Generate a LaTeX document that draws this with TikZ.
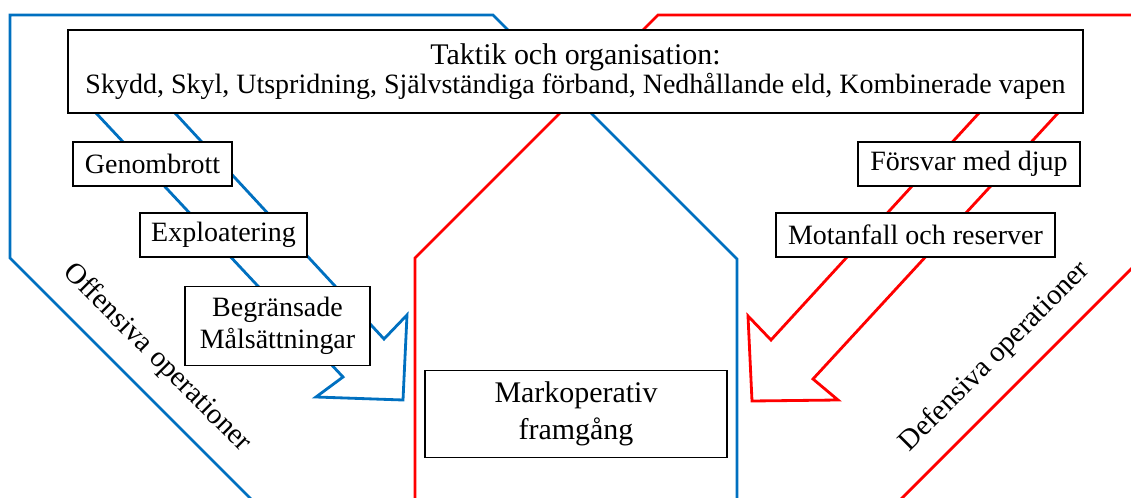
\documentclass[tikz,border=0pt]{standalone}
\usepackage{fontspec}
\setmainfont{Liberation Serif}
\usepackage{xcolor}
\definecolor{OffBlue}{HTML}{0070C0}
\definecolor{DefRed}{HTML}{FF0000}

\begin{document}
\begin{tikzpicture}[x=0.025cm, y=-0.025cm,
    box/.style={draw, line width=1.2pt, fill=white, inner sep=0pt, align=center, font=\fontsize{19.9}{22.5}\selectfont},
    offline/.style={draw=OffBlue, line width=2pt},
    defline/.style={draw=DefRed, line width=2pt},
    sidetext/.style={font=\fontsize{20.6}{22.5}\selectfont}]

    %Canvas
    \useasboundingbox (0,0) rectangle (1131,498);
    \clip (0,0) rectangle (1131,498);

    %Offensive side
    \draw[offline] (260,508) -- (10,258) -- (10,15) -- (493,15) -- (737,259) -- (737,510); %Outline
    \draw[offline] (96,113) -- (343,377) -- (316,397) -- (403,400) -- (407,315) -- (384,339) -- (175,113); %Arrow

    %Defensive side
    \draw[defline] (892,508) -- (1141,259) -- (1141,15) -- (658,15) -- (415,258) -- (415,510); %Outline
    \draw[defline] (979,113) -- (771,340) -- (748,316) -- (752,401) -- (838,400) -- (813,379) -- (1058,113); %Arrow

    %Boxes
    \node[box, minimum width=25.375cm, minimum height=2.075cm, font=\fontsize{19.9}{21}\selectfont] (taktik) at (575.5,71.5)
        {{\fontsize{21.3}{21}\selectfont Taktik och organisation:}\\Skydd, Skyl, Utspridning, Självständiga förband, Nedhållande eld, Kombinerade vapen};
    \node[box, minimum width=3.975cm, minimum height=1.1cm] (genombrott) at (152.5,164) {Genombrott};
    \node[box, minimum width=4.175cm, minimum height=1.1cm] (exploatering) at (223.5,235) {Exploatering};
    \node[box, minimum width=4.625cm, minimum height=1.975cm] (begransade) at (277.5,326) {Begränsade\\Målsättningar};
    \node[box, minimum width=5.55cm, minimum height=1.1cm] (forsvar) at (969,164) {Försvar med djup};
    \node[box, minimum width=6.975cm, minimum height=1.1cm] (motanfall) at (915.5,235) {Motanfall och reserver};
    \node[box, minimum width=7.55cm, minimum height=2.175cm, font=\fontsize{21.3}{26}\selectfont] (markoperativ) at (576,414) {Markoperativ\\framgång};

    %Side labels
    \node[sidetext, rotate=-45] (offensiva) at (157,358) {Offensiva operationer};
    \node[sidetext, rotate=45] (defensiva) at (995,357) {Defensiva operationer};

\end{tikzpicture}
\end{document}
